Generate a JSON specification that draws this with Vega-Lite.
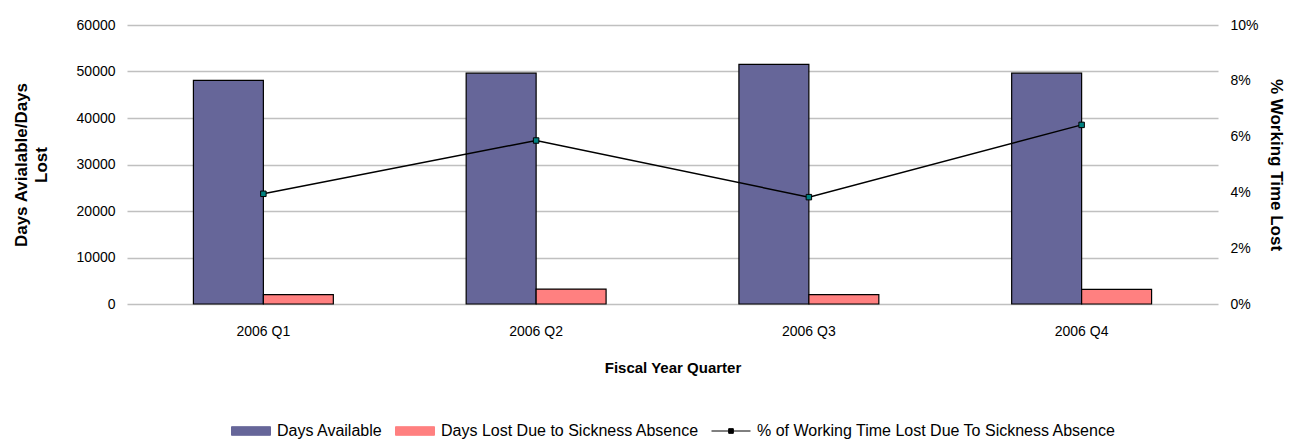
{
  "$schema": "https://vega.github.io/schema/vega-lite/v6.json",
  "autosize": {"type": "none"},
  "padding": {"left": 127, "top": 25, "right": 75, "bottom": 135},
  "width": 1091,
  "height": 279,
  "background": "white",
  "config": {
    "view": {"stroke": null},
    "font": "Liberation Sans",
    "axis": {"labelFont": "Liberation Sans", "titleFont": "Liberation Sans", "labelColor": "#000", "titleColor": "#000", "domain": false, "ticks": false, "labelOverlap": false}
  },
  "datasets": {
    "bars": [
      {"quarter": "2006 Q1", "series": "Days Available", "value": 48100},
      {"quarter": "2006 Q1", "series": "Days Lost Due to Sickness Absence", "value": 2000},
      {"quarter": "2006 Q2", "series": "Days Available", "value": 49650},
      {"quarter": "2006 Q2", "series": "Days Lost Due to Sickness Absence", "value": 3200},
      {"quarter": "2006 Q3", "series": "Days Available", "value": 51550},
      {"quarter": "2006 Q3", "series": "Days Lost Due to Sickness Absence", "value": 2000},
      {"quarter": "2006 Q4", "series": "Days Available", "value": 49650},
      {"quarter": "2006 Q4", "series": "Days Lost Due to Sickness Absence", "value": 3150}
    ],
    "pct": [
      {"quarter": "2006 Q1", "pct": 0.0395},
      {"quarter": "2006 Q2", "pct": 0.0586},
      {"quarter": "2006 Q3", "pct": 0.0383},
      {"quarter": "2006 Q4", "pct": 0.0642}
    ]
  },
  "encoding": {
    "x": {
      "field": "quarter", "type": "nominal",
      "scale": {"paddingInner": 0.487, "paddingOuter": 0.2435},
      "axis": {"labelAngle": 0, "labelFontSize": 14, "labelPadding": 20, "title": "Fiscal Year Quarter", "titleFontSize": 15, "titleFontWeight": "bold", "titlePadding": 22, "grid": false}
    }
  },
  "layer": [
    {
      "data": {"name": "bars"},
      "mark": {"type": "bar", "stroke": "#000", "strokeWidth": 1.2},
      "encoding": {
        "xOffset": {"field": "series", "type": "nominal", "scale": {"domain": ["Days Available", "Days Lost Due to Sickness Absence"], "paddingInner": 0, "paddingOuter": 0}},
        "y": {
          "field": "value", "type": "quantitative",
          "scale": {"domain": [0, 60000], "nice": false},
          "axis": {"values": [0, 10000, 20000, 30000, 40000, 50000, 60000], "format": "d", "labelFontSize": 14, "labelPadding": 12, "gridColor": "#c0c0c0", "gridWidth": 1.5,
            "title": ["Days Avialable/Days", "Lost"], "titleFontSize": 17, "titleFontWeight": "bold", "titleLineHeight": 20, "titlePadding": 26}
        },
        "color": {
          "field": "series", "type": "nominal",
          "scale": {"domain": ["Days Available", "Days Lost Due to Sickness Absence", "% of Working Time Lost Due To Sickness Absence"], "range": ["#666699", "#FF8080", "#000000"]},
          "legend": {
            "orient": "none", "legendX": 104, "legendY": 386, "direction": "horizontal", "title": null,
            "labelFont": "Liberation Sans", "labelFontSize": 16, "labelColor": "#000",
            "symbolSize": 1521, "columnPadding": 10, "labelOffset": 6, "labelLimit": 500,
            "symbolType": "M-1,-0.22H1V0.22H-1Z", "symbolStrokeColor": "#000", "symbolStrokeWidth": 1,
            "encode": {
              "symbols": {
                "update": {
                  "shape": {"signal": "datum.value === '% of Working Time Lost Due To Sickness Absence' ? 'M-1,0H1M-0.12,-0.12H0.12V0.12H-0.12Z' : 'M-1,-0.22H1V0.22H-1Z'"},
                  "fill": {"signal": "datum.value === '% of Working Time Lost Due To Sickness Absence' ? '#008080' : scale('color', datum.value)"},
                  "stroke": {"value": "#000"},
                  "strokeWidth": {"value": 1},
                  "opacity": {"value": 1},
                  "fillOpacity": {"value": 1}
                }
              }
            }
          }
        }
      }
    },
    {
      "data": {"name": "pct"},
      "layer": [
        {
          "mark": {"type": "line", "color": "#000", "strokeWidth": 1.5},
          "encoding": {
            "y": {
              "field": "pct", "type": "quantitative",
              "scale": {"domain": [0, 0.1], "nice": false},
              "axis": {"orient": "right", "values": [0, 0.02, 0.04, 0.06, 0.08, 0.1], "format": ".0%", "labelFontSize": 14, "labelPadding": 12, "grid": false,
                "title": "% Working Time Lost", "titleFontSize": 17, "titleFontWeight": "bold", "titleAngle": 90, "titlePadding": 8}
            },
            "color": {"datum": "% of Working Time Lost Due To Sickness Absence"}
          }
        },
        {
          "mark": {"type": "point", "shape": "square", "filled": true, "fill": "#008080", "stroke": "#000", "strokeWidth": 1, "size": 30, "opacity": 1},
          "encoding": {
            "y": {"field": "pct", "type": "quantitative", "scale": {"domain": [0, 0.1], "nice": false}}
          }
        }
      ]
    }
  ],
  "resolve": {"scale": {"y": "independent", "color": "shared"}}
}
